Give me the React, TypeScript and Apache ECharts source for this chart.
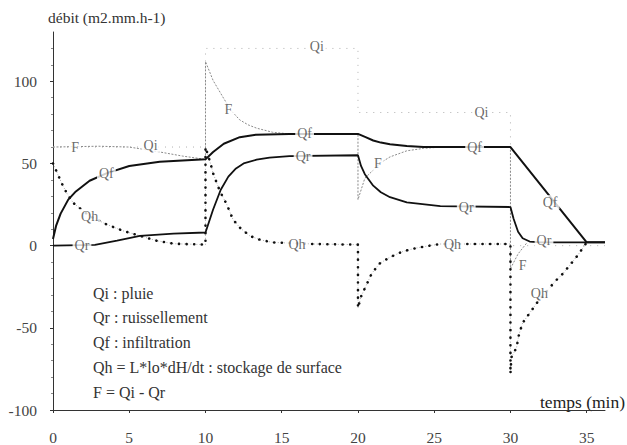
import React, { useEffect, useRef } from 'react';
import * as echarts from 'echarts';

const xTicks = [0, 5, 10, 15, 20, 25, 30, 35];
const yTicks = [-100, -50, 0, 50, 100];
const yMinorTicks = [-90, -80, -70, -60, -40, -30, -20, -10, 10, 20, 30, 40, 60, 70, 80, 90, 110, 120];

const qi: [number, number][] = [
  [0, 60], [10, 60], [10, 120], [20, 120], [20, 81], [30, 81], [30, 0], [36.2, 0],
];
const f: [number, number][] = [
  [0, 60], [3, 60.5], [5, 60], [6, 58.5], [7, 57], [8.5, 54.5], [10, 52.5],
  [10, 112], [10.5, 100.5], [11.2, 89.5], [11.7, 82], [12.25, 76.5], [12.8, 73.5], [13.35, 71.5],
  [14.4, 69], [15.5, 68], [20, 68],
  [20, 28], [20.45, 41], [21, 46], [21.5, 50.5], [22.1, 54], [23.2, 57.7], [24.3, 59.2], [25.5, 60],
  [30, 60], [30, -14], [30.5, -5], [31.1, 2],
];
const qf: [number, number][] = [
  [0, 4], [0.2, 12], [0.5, 19.5], [1, 28], [1.5, 33], [2.4, 39.5], [3.5, 44], [5, 48.5], [7, 51],
  [10, 52.5], [10.5, 57], [11.2, 62], [12.25, 66], [13.3, 67.5], [15.5, 68], [20, 68],
  [20.5, 66], [21, 64], [21.5, 62.7], [22.1, 61.7], [23.2, 60.6], [24.3, 60], [30, 60],
  [35, 2], [36.2, 2],
];
const qr: [number, number][] = [
  [0, 0], [2.75, 0.5], [4.2, 3], [5.7, 6], [7.9, 7.3], [10, 8],
  [10.5, 22], [11, 34], [11.5, 42], [12, 47], [12.5, 50], [13.35, 52.3], [14.2, 53.6], [15.5, 54.5], [20, 55],
  [20.2, 48.5], [20.45, 43.5], [21, 36.5], [21.5, 32.5], [22.1, 29.5], [23.2, 26.3], [25.4, 24], [30, 23.5],
  [30.2, 16.5], [30.5, 8.5], [30.8, 4.5], [31.26, 2.5], [32, 2], [36.2, 2],
];
const qh: [number, number][] = [
  [0, 50], [0.57, 38], [0.9, 32], [1.33, 26], [2.4, 18], [3.5, 13], [4.6, 9], [5.7, 6], [6.8, 3], [7.9, 1.2], [10, 0.6],
  [10, 60], [10.3, 51], [10.5, 44], [10.95, 33], [11.4, 25], [11.8, 16], [12.25, 11], [12.9, 6], [13.6, 3.5],
  [14.4, 2], [17.1, 1], [20, 0.6],
  [20, -38], [20.2, -31], [20.55, -24], [20.9, -17], [21.4, -11], [22.1, -7], [22.95, -3.5], [23.8, -1.5],
  [24.7, 0], [25.4, 1], [30, 1],
  [30, -78], [30.06, -68], [30.4, -62], [30.56, -54], [30.8, -47], [31.26, -41], [31.8, -34], [32.9, -22],
  [33.44, -17], [33.88, -12], [34.4, -6], [35, 2],
];
const curveLabels: [number, number, string][] = [
  [1.45, 60, 'F'], [6.4, 61, 'Qi'], [3.5, 44, 'Qf'], [2.4, 18, 'Qh'], [1.9, 0, 'Qr'],
  [17.3, 121, 'Qi'], [11.5, 83, 'F'], [16.5, 68, 'Qf'], [16.4, 54.5, 'Qr'], [16.0, 1, 'Qh'],
  [28.1, 81, 'Qi'], [21.3, 50, 'F'], [27.65, 60, 'Qf'], [27.1, 23, 'Qr'], [26.2, 1, 'Qh'],
  [32.6, 26.5, 'Qf'], [32.2, 3, 'Qr'], [30.8, -12, 'F'], [31.9, -29, 'Qh'],
];
const legendLines = [
  'Qi : pluie',
  'Qr : ruissellement',
  'Qf : infiltration',
  'Qh = L*lo*dH/dt : stockage de surface',
  'F = Qi - Qr',
];
const yTitle = 'débit (m2.mm.h-1)';
const xTitle = 'temps (min)';

const SERIF = 'Liberation Serif';

export default function App() {
  const ref = useRef<HTMLDivElement>(null);
  useEffect(() => {
    const chart = echarts.init(ref.current!, null, { renderer: 'svg' });
    const lineBase = { type: 'line' as const, symbol: 'none', animation: false, silent: true };
    const txt = (size: number, fill: string) => ({ fill, font: `${size}px ${SERIF}` });
    chart.setOption({
      animation: false,
      textStyle: { fontFamily: SERIF },
      grid: { left: 53, right: 22, top: 32, bottom: 32, containLabel: false },
      xAxis: {
        type: 'value', min: 0, max: 36.2, interval: 5,
        axisLine: { onZero: false, lineStyle: { color: '#333', width: 1 } },
        axisTick: { show: true, length: 3, customValues: xTicks, lineStyle: { color: '#333' } },
        axisLabel: { customValues: xTicks, margin: 19, color: '#444', fontFamily: SERIF, fontSize: 15.5 },
        splitLine: { show: false },
      },
      yAxis: [
        {
          type: 'value', min: -100, max: 130, interval: 50,
          axisLine: { show: true, lineStyle: { color: '#333', width: 1 } },
          axisTick: { show: true, length: 3, customValues: yTicks, lineStyle: { color: '#333' } },
          axisLabel: { customValues: yTicks, margin: 16, color: '#444', fontFamily: SERIF, fontSize: 15.5 },
          splitLine: { show: false },
        },
        {
          type: 'value', min: -100, max: 130, interval: 50, position: 'left',
          axisLine: { show: false },
          axisTick: { show: true, length: 2, customValues: yMinorTicks, lineStyle: { color: '#888' } },
          axisLabel: { show: false },
          splitLine: { show: false },
        },
      ],
      graphic: [
        { type: 'text', x: 48, y: 17, style: { text: yTitle, ...txt(15.5, '#333'), verticalAlign: 'middle' } },
        { type: 'text', x: 540, y: 402, style: { text: xTitle, ...txt(17.5, '#222'), verticalAlign: 'middle' } },
        ...legendLines.map((t, i) => ({
          type: 'text', x: 93, y: 293 + i * 24.8,
          style: { text: t, ...txt(16, '#333'), verticalAlign: 'middle' },
        })),
      ],
      series: [
        { ...lineBase, name: 'Qi', data: qi, lineStyle: { color: '#b0b0b0', width: 1, type: [1, 6] }, z: 1 },
        { ...lineBase, name: 'F', data: f, lineStyle: { color: '#8a8a8a', width: 1, type: [2, 1.5] }, z: 2 },
        { ...lineBase, name: 'Qh-line', data: qh, lineStyle: { color: '#9a9a9a', width: 0.8, type: [1, 2] }, z: 2 },
        { ...lineBase, name: 'Qh', data: qh, lineStyle: { color: '#111', width: 2.6, type: [0.1, 7.5], cap: 'round' }, z: 3 },
        { ...lineBase, name: 'Qr', data: qr, lineStyle: { color: '#111', width: 1.8 }, z: 4 },
        { ...lineBase, name: 'Qf', data: qf, lineStyle: { color: '#111', width: 2 }, z: 4 },
        {
          type: 'scatter', name: 'labels', silent: true, symbolSize: 1, z: 10,
          itemStyle: { color: 'rgba(0,0,0,0)' },
          data: curveLabels,
          label: {
            show: true, position: 'inside', formatter: (p: any) => p.data[2],
            color: '#444', fontFamily: SERIF, fontSize: 14, backgroundColor: '#fff', padding: [0, 2],
          },
        },
      ],
    });
    return () => chart.dispose();
  }, []);
  return <div ref={ref} style={{ position: 'fixed', left: 0, top: 0, width: 627, height: 445, background: '#fff' }} />;
}
